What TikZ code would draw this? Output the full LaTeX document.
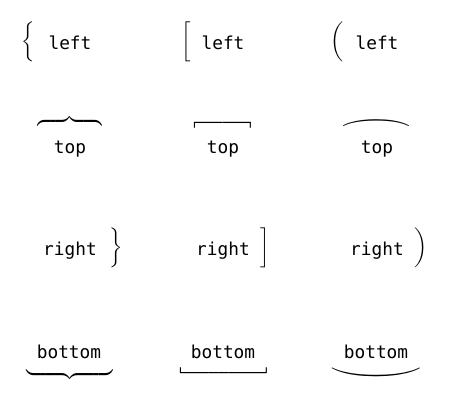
\documentclass[tikz,border=0pt]{standalone}
\usepackage{fontspec}
\usepackage{graphicx}
\newfontfamily\dmono{DejaVu Sans Mono}
% #1 left delim, #2 right delim, #3 requested size, #4 final size
\newcommand\mydelim[4]{\resizebox*{\width}{#4}{$\delimitershortfall=0pt\delimiterfactor=1000\left#1\vcenter{\hrule height #3 width 0pt}\right#2$}}
\tikzset{
  txt/.style={font=\dmono\fontsize{10pt}{12pt}\selectfont, inner sep=0pt, anchor=base},
  dl/.style={inner sep=0pt, outer sep=0pt}
}
\begin{document}
\begin{tikzpicture}[x=0.5618pt, y=-0.5618pt]
\useasboundingbox (0,0) rectangle (451,401);
% row 1: left
\node[txt] (t11) at (70,49) {left};
\node[txt] (t12) at (223,49) {left};
\node[txt] (t13) at (377,49) {left};
\node[dl] (d11) at (29,42) {\mydelim{\{}{.}{22.47pt}{22.47pt}};
\node[dl] (d12) at (187,42) {\mydelim{[}{.}{22.47pt}{22.47pt}};
\node[dl] (d13) at (338,42) {\mydelim{(}{.}{22.47pt}{22.47pt}};
% row 2: top
\node[txt] (t21) at (70,153) {top};
\node[txt] (t22) at (223,153) {top};
\node[txt] (t23) at (377,153) {top};
\node[dl, rotate=-90] (d21) at (69.5,122) {\mydelim{\{}{.}{36.52pt}{36.52pt}};
\node[dl, rotate=-90] (d22) at (222.5,123.5) {\mydelim{[}{.}{32.02pt}{32.02pt}};
\node[dl, rotate=-90] (d23) at (376,123) {\mydelim{(}{.}{17pt}{37.08pt}};
% row 3: right
\node[txt] (t31) at (70,255) {right};
\node[txt] (t32) at (223,255) {right};
\node[txt] (t33) at (377,255) {right};
\node[dl] (d31) at (115.5,248) {\mydelim{.}{\}}{22.47pt}{22.47pt}};
\node[dl] (d32) at (264.5,248) {\mydelim{.}{]}{22.47pt}{22.47pt}};
\node[dl] (d33) at (420,248) {\mydelim{.}{)}{22.47pt}{22.47pt}};
% row 4: bottom
\node[txt] (t41) at (69,358) {bottom};
\node[txt] (t42) at (223,358) {bottom};
\node[txt] (t43) at (376,358) {bottom};
\node[dl, rotate=90] (d41) at (69.5,374) {\mydelim{\{}{.}{48.88pt}{48.88pt}};
\node[dl, rotate=90] (d42) at (223.5,372) {\mydelim{[}{.}{48.88pt}{48.88pt}};
\node[dl, rotate=90] (d43) at (376,372.5) {\mydelim{(}{.}{23pt}{49.44pt}};
\end{tikzpicture}
\end{document}
